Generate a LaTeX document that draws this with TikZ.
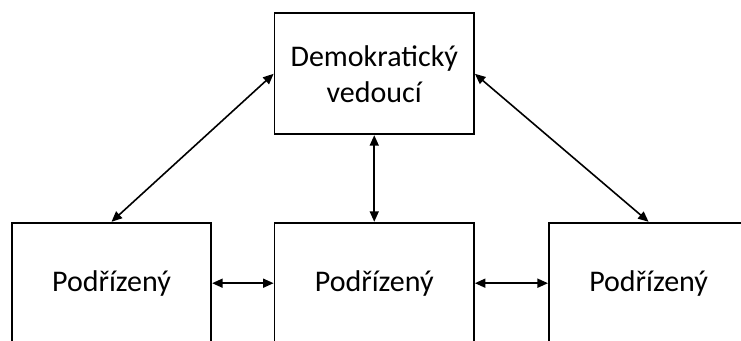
\documentclass[tikz,border=0pt]{standalone}
\usepackage{fontspec}
\setmainfont{Carlito}
\usetikzlibrary{arrows.meta}
\begin{document}
\begin{tikzpicture}[x=1pt,y=1pt,
  box/.style={draw=black, line width=1.8pt, minimum width=199.5pt, minimum height=121pt,
    inner sep=0pt, align=center, font=\fontsize{30}{36}\selectfont},
  link/.style={line width=1.6pt, {Triangle[length=10.5pt,width=9pt]}-{Triangle[length=10.5pt,width=9pt]}}]
  \useasboundingbox (0,0) rectangle (741,340);
  \clip (0,0) rectangle (741,340);
  % leader
  \node[box] (lead) at (374.25,266.2) {Demokratický\\vedoucí};
  % subordinates
  \node[box] (s1) at (111.5,56.8) {Podřízený};
  \node[box] (s2) at (374.25,56.8) {Podřízený};
  \node[box] (s3) at (648.6,56.8) {Podřízený};
  % links
  \draw[link] (lead.west) -- (s1.north);
  \draw[link] (lead.south) -- (s2.north);
  \draw[link] (lead.east) -- (s3.north);
  \draw[link] (s1.east) -- (s2.west);
  \draw[link] (s2.east) -- (s3.west);
\end{tikzpicture}
\end{document}
